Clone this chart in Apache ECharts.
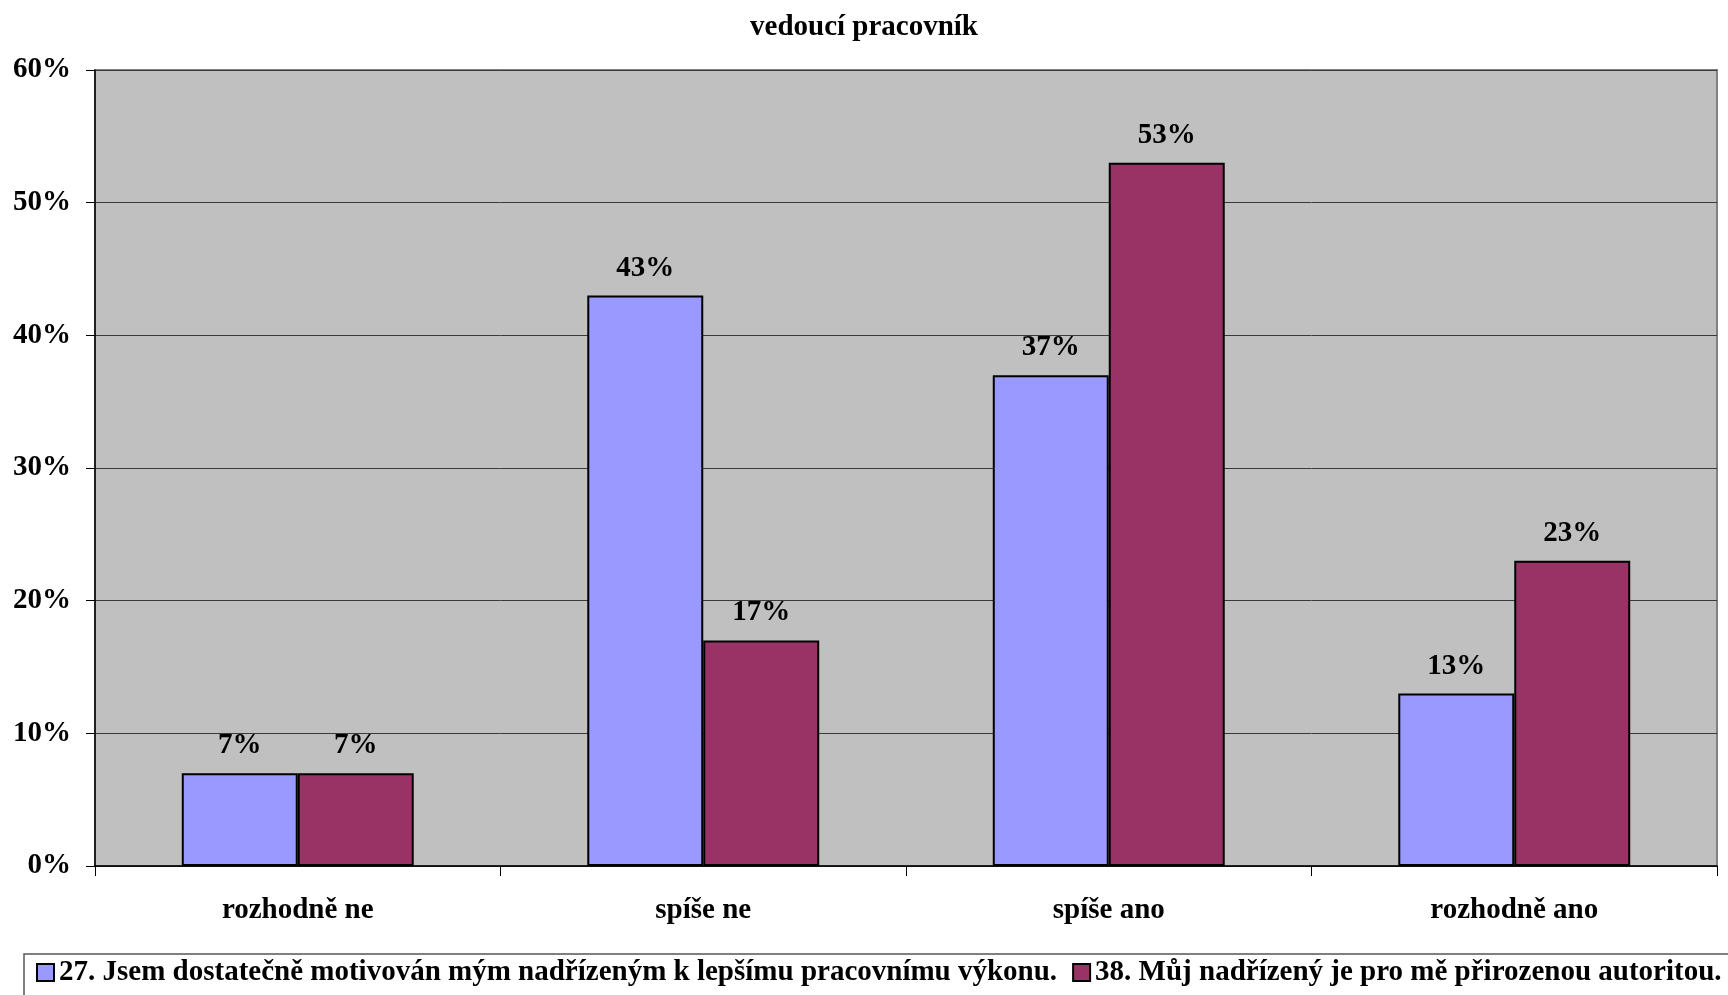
<!DOCTYPE html>
<html>
<head>
<meta charset="utf-8">
<title>vedoucí pracovník</title>
<script src="https://cdn.jsdelivr.net/npm/echarts@6/dist/echarts.min.js"></script>
<style>
  html, body { margin: 0; padding: 0; background: #ffffff; }
  #chart { width: 1728px; height: 995px; }
</style>
</head>
<body>
<div id="chart"></div>
<script>
// Survey answers: share of respondents per answer category
const chartTitle = 'vedoucí pracovník';
const categories = ['rozhodně ne', 'spíše ne', 'spíše ano', 'rozhodně ano'];
const seriesNames = [
  '27. Jsem dostatečně motivován mým nadřízeným k lepšímu pracovnímu výkonu.',
  '38. Můj nadřízený je pro mě přirozenou autoritou.'
];
const motivatedValues = [7, 43, 37, 13];
const authorityValues = [7, 17, 53, 23];
const yTicks = [0, 10, 20, 30, 40, 50, 60];

const FONT = '"Liberation Serif", "Times New Roman", serif';
const textBase = { fontFamily: FONT, fontWeight: 'bold', color: '#000', fontSize: 29 };

const chart = echarts.init(document.getElementById('chart'), null, { renderer: 'canvas' });

function barSeries(name, values, color) {
  return {
    name: name,
    type: 'bar',
    data: values,
    barGap: '0%',
    barCategoryGap: '42.8%',
    itemStyle: { color: color, borderColor: '#000', borderWidth: 2 },
    label: {
      show: true,
      position: 'top',
      distance: 13,
      formatter: p => p.value + '%',
      ...textBase
    },
    emphasis: { disabled: true },
    animation: false
  };
}

chart.setOption({
  backgroundColor: '#ffffff',
  animation: false,
  title: {
    text: chartTitle,
    left: 'center',
    top: 8,
    textStyle: { ...textBase }
  },
  grid: {
    left: 95, right: 11, top: 70, bottom: 129,
    show: true,
    backgroundColor: '#C0C0C0',
    borderColor: '#808080',
    borderWidth: 2
  },
  legend: {
    left: 36,
    top: 958,
    padding: 0,
    itemWidth: 17,
    itemHeight: 17,
    itemGap: 15,
    icon: 'rect',
    selectedMode: false,
    textStyle: { ...textBase },
    data: seriesNames
  },
  graphic: [{
    type: 'rect',
    shape: { x: 24, y: 954, width: 1720, height: 60 },
    style: { fill: 'none', stroke: '#555', lineWidth: 1.5 },
    silent: true,
    z: -1
  }],
  xAxis: {
    type: 'category',
    data: categories,
    axisLine: { lineStyle: { color: '#000', width: 1.5 } },
    axisTick: { show: true, length: 10, lineStyle: { color: '#000' } },
    axisLabel: { ...textBase, margin: 30 },
    splitLine: { show: false }
  },
  yAxis: {
    type: 'value',
    min: yTicks[0],
    max: yTicks[yTicks.length - 1],
    interval: 10,
    axisLine: { show: true, lineStyle: { color: '#000', width: 1.5 } },
    axisTick: { show: true, length: 9, lineStyle: { color: '#000' } },
    axisLabel: { ...textBase, margin: 24, formatter: v => v + '%' },
    splitLine: { show: true, lineStyle: { color: '#3a3a3a', width: 1 } }
  },
  series: [
    barSeries(seriesNames[0], motivatedValues, '#9999FF'),
    barSeries(seriesNames[1], authorityValues, '#993366')
  ]
});
</script>
</body>
</html>
